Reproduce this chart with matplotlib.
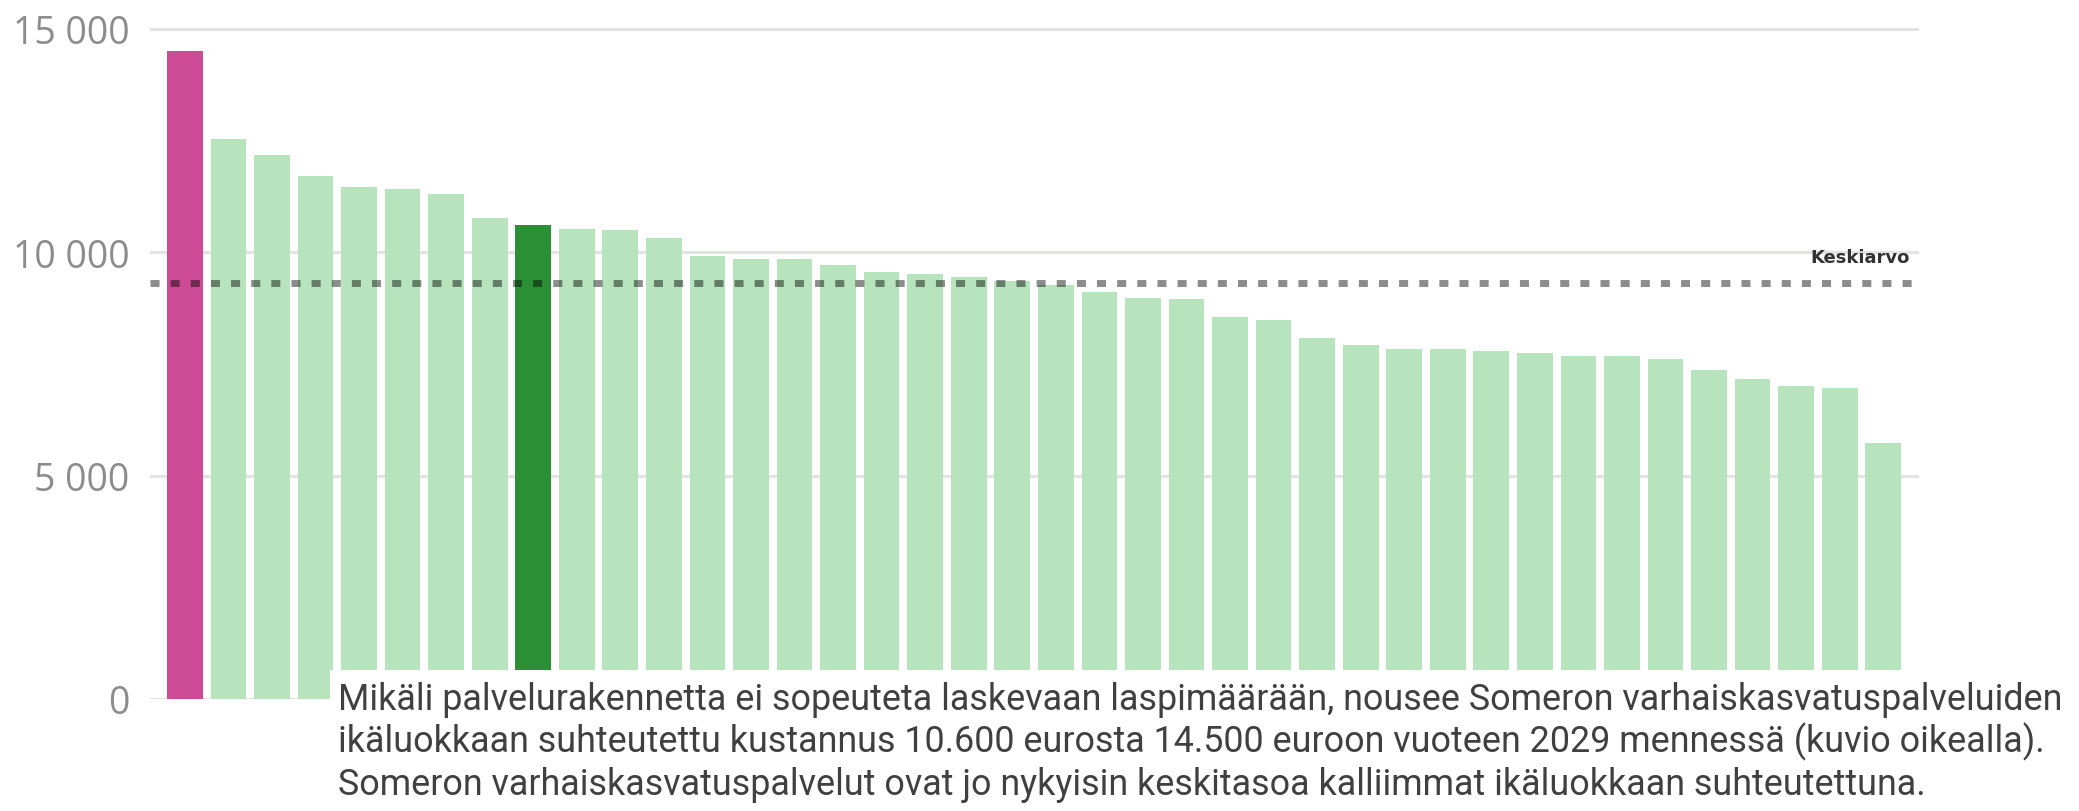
import matplotlib
matplotlib.use('Agg')
import matplotlib.pyplot as plt
from matplotlib.patches import Rectangle
from matplotlib import font_manager

# kustannus per ikäluokka, suurimmasta pienimpään (euroa)
values = [14500, 12520, 12180, 11710, 11460, 11400, 11300, 10750, 10600, 10510,
          10490, 10310, 9910, 9840, 9840, 9710, 9550, 9510, 9440, 9350,
          9260, 9100, 8970, 8950, 8550, 8480, 8080, 7920, 7840, 7830,
          7790, 7740, 7670, 7670, 7600, 7360, 7160, 7010, 6960, 5730]
highlight_pink = 0   # ennuste 2029
highlight_green = 8  # Somero nyt
mean_value = 9300
yticks = [0, 5000, 10000, 15000]
ytick_labels = ['0', '5 000', '10 000', '15 000']
caption = ["Mikäli palvelurakennetta ei sopeuteta laskevaan laspimäärään, nousee Someron varhaiskasvatuspalveluiden",
           "ikäluokkaan suhteutettu kustannus 10.600 eurosta 14.500 euroon vuoteen 2029 mennessä (kuvio oikealla).",
           "Someron varhaiskasvatuspalvelut ovat jo nykyisin keskitasoa kalliimmat ikäluokkaan suhteutettuna."]

names = {f.name for f in font_manager.fontManager.ttflist}
cap_font = 'Liberation Sans Narrow' if 'Liberation Sans Narrow' in names else 'Roboto'

W, H = 2079, 812
fig = plt.figure(figsize=(W / 100, H / 100), dpi=100)
# axes: x 150..1919 px, y 0 at 700 px, 15300 at ~16 px
ax = fig.add_axes([150 / W, 1 - 700 / H, (1919 - 150) / W, (700 - 16.1) / H])

colors = ['#b7e4bc'] * len(values)
colors[highlight_pink] = '#cd4b94'
colors[highlight_green] = '#2b8f35'
x = list(range(len(values)))
ax.bar(x, values, width=0.82, color=colors, zorder=2)

ax.set_xlim(-0.8, len(values) - 0.18)
ax.set_ylim(0, 15300)
ax.set_yticks(yticks)
ax.set_yticklabels(ytick_labels, fontsize=27, color='#8c8c8c', family='Open Sans')
ax.tick_params(axis='y', length=0, pad=15)
ax.set_xticks([])
ax.grid(axis='y', color='#e2e4e2', linewidth=2.2, zorder=0)
for s in ax.spines.values():
    s.set_visible(False)

ax.axhline(mean_value, color='black', alpha=0.45, linewidth=5,
           linestyle=(0, (1.3, 1.6)), dash_capstyle='butt', zorder=3)
ax.text(len(values) - 0.4, mean_value + 380, 'Keskiarvo', ha='right', va='bottom',
        fontsize=13, fontweight='bold', color='#333333', family='DejaVu Sans')

# valkoinen tekstilaatikko kaavion päällä
fig.add_artist(Rectangle((330 / W, 0), 1 - 330 / W, 1 - 671 / H, transform=fig.transFigure,
                         facecolor='white', edgecolor='none', zorder=5))
for i, line in enumerate(caption):
    fig.text(338 / W, 1 - (710 + 42.5 * i) / H, line, ha='left', va='baseline',
             fontsize=25.8, color='#404040', family=cap_font, zorder=6)

fig.savefig('out.png', dpi=100)
